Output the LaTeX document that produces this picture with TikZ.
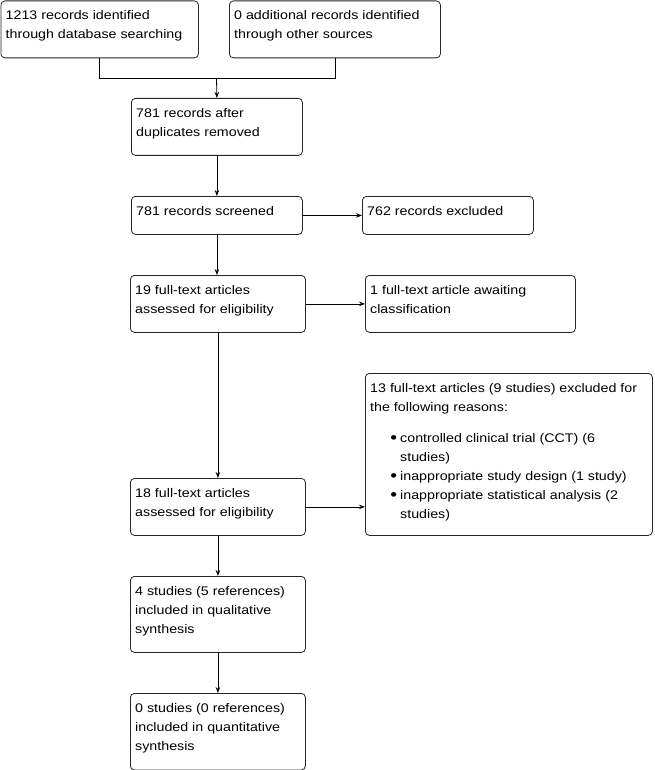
\documentclass[tikz,border=0pt]{standalone}
\usepackage{fontspec}
\setmainfont{Liberation Sans}[FakeStretch=1.14]
\usetikzlibrary{arrows.meta}
\tikzset{
  box/.style={draw=black!85, line width=0.8pt, rounded corners=4pt, anchor=north west, inner sep=0pt},
  txt/.style={anchor=north west, inner sep=0pt, align=left, font=\fontsize{12.5}{19}\selectfont},
  conn/.style={line width=0.8pt},
  arr/.style={conn, -{Stealth[length=6pt,width=4.5pt]}}
}
\newcommand{\bx}[6]{% name, x, y, w, h, text
  \node[box, minimum width=#4pt, minimum height=#5pt] (#1) at (#2pt,-#3pt) {};
  \node[txt] (#1t) at ([shift={(5pt,-5.7pt)}]#1.north west) {\strut #6};
}
\newcommand{\itm}{\hspace*{30pt}\llap{\raisebox{-1pt}{\fontsize{17}{17}\selectfont\textbullet}\hspace{3pt}}}
\newcommand{\ind}{\hspace*{30pt}}
\begin{document}
\begin{tikzpicture}
\useasboundingbox (0,0) rectangle (654pt,-770pt);
\bx{a}{0.5}{0.5}{197.5}{57}{1213 records identified\\through database searching}
\bx{b}{229}{0.5}{211}{57}{0 additional records identified\\through other sources}
\bx{c}{131}{98}{171}{57}{781 records after\\duplicates removed}
\bx{d}{131}{196}{171}{38}{781 records screened}
\bx{e}{362}{196}{171}{38}{762 records excluded}
\bx{f}{130}{275}{175}{57}{19 full-text articles\\assessed for eligibility}
\bx{g}{365}{275}{210}{57}{1 full-text article awaiting\\classification}
\bx{h}{365}{373}{287}{162}{13 full-text articles (9 studies) excluded for\\the following reasons:\\[12pt]%
\itm controlled clinical trial (CCT) (6\\
\ind studies)\\
\itm inappropriate study design (1 study)\\
\itm inappropriate statistical analysis (2\\
\ind studies)}
\bx{i}{130}{478}{175}{57}{18 full-text articles\\assessed for eligibility}
\bx{j}{130}{576}{175}{76}{4 studies (5 references)\\included in qualitative\\synthesis}
\bx{k}{130}{693}{175}{76.5}{0 studies (0 references)\\included in quantitative\\synthesis}
\coordinate (m) at (216.5pt,-78pt);
\draw[conn] (a.south) -- (a.south |- m) -- (b.south |- m) -- (b.south);
\draw[arr] (m) -- (c.north);
\draw[arr] (c.south) -- (d.north);
\draw[arr] (d.east) -- (e.west);
\draw[arr] (d.south) -- (d.south |- f.north);
\draw[arr] (f.east) -- (g.west);
\draw[arr] (f.south) -- (i.north);
\draw[arr] (i.east) -- (i.east -| h.west);
\draw[arr] (i.south) -- (j.north);
\draw[arr] (j.south) -- (k.north);
\end{tikzpicture}
\end{document}
